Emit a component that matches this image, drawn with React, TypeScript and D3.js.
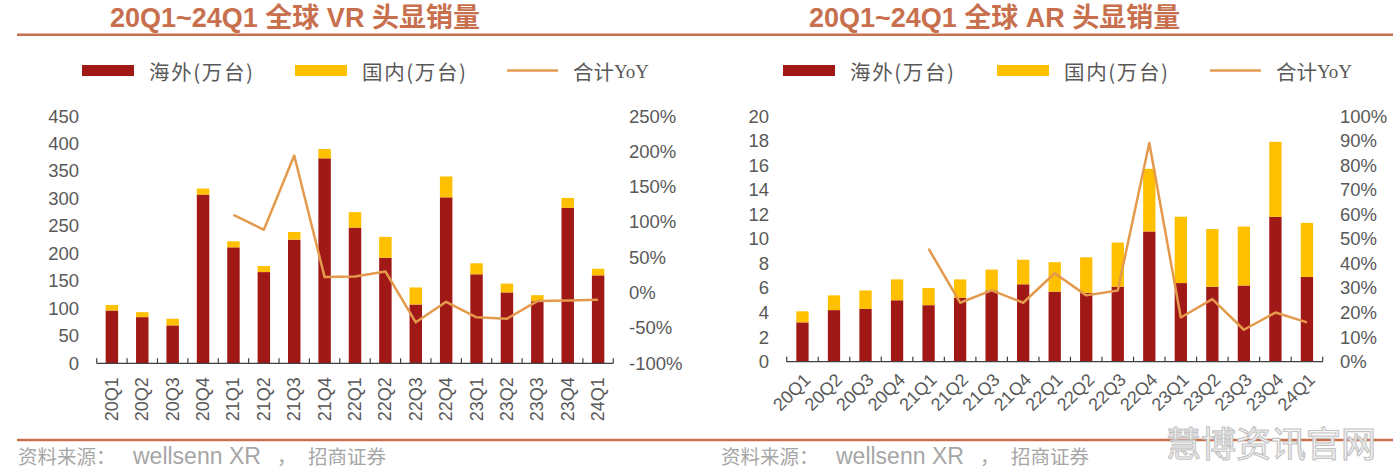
import React from "react";
import * as d3 from "d3";

const categories = ["20Q1","20Q2","20Q3","20Q4","21Q1","21Q2","21Q3","21Q4","22Q1","22Q2","22Q3","22Q4","23Q1","23Q2","23Q3","23Q4","24Q1"];

const vrOverseas = [96,84,69,307,211,166,225,373,247,192,107,302,162,129,113,283,160];
const vrDomestic = [10,9,12,11,11,11,14,17,28,38,31,38,20,16,11,18,12];
const vrYoY: (number | null)[] = [null,null,null,null,1.10,0.89,1.94,0.22,0.23,0.30,-0.42,-0.13,-0.35,-0.37,-0.12,-0.11,-0.10];
const vrLeftTicks = [0,50,100,150,200,250,300,350,400,450];
const vrRightTicks = [-1,-0.5,0,0.5,1,1.5,2,2.5];

const arOverseas = [3.2,4.2,4.3,5.0,4.6,5.2,5.8,6.3,5.7,5.6,6.1,10.6,6.4,6.1,6.2,11.8,6.9];
const arDomestic = [0.9,1.2,1.5,1.7,1.4,1.5,1.7,2.0,2.4,2.9,3.6,5.1,5.4,4.7,4.8,6.1,4.4];
const arYoY: (number | null)[] = [null,null,null,null,0.46,0.24,0.29,0.24,0.36,0.27,0.29,0.89,0.18,0.255,0.13,0.20,0.16];
const arLeftTicks = [0,2,4,6,8,10,12,14,16,18,20];
const arRightTicks = [0,0.1,0.2,0.3,0.4,0.5,0.6,0.7,0.8,0.9,1];

const legendLabels = ["海外(万台)", "国内(万台)", "合计YoY"];

const C_OVER = "#a11916";
const C_DOM = "#ffc000";
const C_LINE = "#e39a4c";
const C_TEXT = "#595959";
const C_TITLE = "#c8704e";
const FONT = "'Liberation Sans', Arial, 'Noto Sans CJK SC', sans-serif";
const CJK = "'Noto Sans CJK SC', sans-serif";

type ChartProps = {
  x0: number; x1: number; yBottom: number; yTop: number;
  overseas: number[]; domestic: number[]; yoy: (number | null)[];
  leftTicks: number[]; rightTicks: number[];
  leftLabelX: number; rightLabelX: number;
  padInner: number; rotate: number;
  title: string; titleX: number; legendX: number[];
};

function Chart(p: ChartProps) {
  const x = d3.scaleBand<string>().domain(categories).range([p.x0, p.x1])
    .paddingInner(p.padInner).paddingOuter(p.padInner / 2);
  const y = d3.scaleLinear().domain([p.leftTicks[0], p.leftTicks[p.leftTicks.length - 1]]).range([p.yBottom, p.yTop]);
  const y2 = d3.scaleLinear().domain([p.rightTicks[0], p.rightTicks[p.rightTicks.length - 1]]).range([p.yBottom, p.yTop]);
  const step = x.step();
  const line = d3.line<number | null>()
    .defined(d => d != null)
    .x((_, i) => (x(categories[i]) as number) + x.bandwidth() / 2)
    .y(d => y2(d as number));
  const boundaries = d3.range(categories.length + 1).map(i => p.x0 + i * step);
  return (
    <g>
      <text x={p.titleX} y={27} fontFamily={FONT} fontWeight="bold" fontSize={27} fill={C_TITLE}>{p.title}</text>
      {/* legend */}
      <rect x={p.legendX[0]} y={65} width={52} height={11} fill={C_OVER} />
      <text x={p.legendX[0] + 67} y={71} dominantBaseline="central" fontFamily={CJK} fontSize={20.5} fill={C_TEXT} textLength={104}>{legendLabels[0]}</text>
      <rect x={p.legendX[1]} y={65} width={52} height={11} fill={C_DOM} />
      <text x={p.legendX[1] + 67} y={71} dominantBaseline="central" fontFamily={CJK} fontSize={20.5} fill={C_TEXT} textLength={104}>{legendLabels[1]}</text>
      <line x1={p.legendX[2]} x2={p.legendX[2] + 51} y1={70.5} y2={70.5} stroke={C_LINE} strokeWidth={2.5} />
      <text x={p.legendX[2] + 66} y={71} dominantBaseline="central" fontFamily={CJK} fontSize={20.5} fill={C_TEXT}>
        {legendLabels[2].slice(0, 2)}<tspan fontFamily="'Liberation Serif', serif" fontSize={19}>{legendLabels[2].slice(2)}</tspan>
      </text>
      {/* left axis labels */}
      {p.leftTicks.map(t => (
        <text key={"l" + t} x={p.leftLabelX} y={y(t)} textAnchor="end" dominantBaseline="central" fontFamily={FONT} fontSize={18.5} fill={C_TEXT}>{t}</text>
      ))}
      {p.rightTicks.map(t => (
        <text key={"r" + t} x={p.rightLabelX} y={y2(t)} dominantBaseline="central" fontFamily={FONT} fontSize={18.5} fill={C_TEXT}>{Math.round(t * 100) + "%"}</text>
      ))}
      {/* bars */}
      {categories.map((c, i) => (
        <g key={c}>
          <rect x={x(c)} width={x.bandwidth()} y={y(p.overseas[i])} height={y(0) - y(p.overseas[i])} fill={C_OVER} />
          <rect x={x(c)} width={x.bandwidth()} y={y(p.overseas[i] + p.domestic[i])} height={y(p.overseas[i]) - y(p.overseas[i] + p.domestic[i])} fill={C_DOM} />
        </g>
      ))}
      {/* axis */}
      <line x1={p.x0} x2={p.x1} y1={p.yBottom} y2={p.yBottom} stroke="#404040" strokeWidth={1.2} />
      {boundaries.map((b, i) => (
        <line key={"t" + i} x1={b} x2={b} y1={p.yBottom - 5} y2={p.yBottom} stroke="#404040" strokeWidth={1.2} />
      ))}
      <path d={line(p.yoy) || ""} fill="none" stroke={C_LINE} strokeWidth={2.5} strokeLinejoin="round" />
      {/* x labels */}
      {categories.map(c => {
        const cx = (x(c) as number) + x.bandwidth() / 2;
        if (p.rotate === -90) {
          return <text key={"x" + c} transform={`translate(${cx},${p.yBottom + 14}) rotate(-90)`} textAnchor="end" dominantBaseline="central" fontFamily={FONT} fontSize={18} fill={C_TEXT}>{c}</text>;
        }
        return <text key={"x" + c} transform={`translate(${cx + 5},${p.yBottom + 15}) rotate(-45)`} textAnchor="end" dominantBaseline="central" fontFamily={FONT} fontSize={18} fill={C_TEXT}>{c}</text>;
      })}
    </g>
  );
}

function Source({ x }: { x: number }) {
  return (
    <text x={x} y={464} fill="#a6a6a6" fontFamily={CJK} fontSize={19.5}>
      <tspan x={x + 1}>资料来源：</tspan>
      <tspan x={x + 116} fontFamily={FONT} fontSize={23}>wellsenn XR</tspan>
      <tspan x={x + 260}>，</tspan>
      <tspan x={x + 291}>招商证券</tspan>
    </text>
  );
}

export default function App() {
  return (
    <svg width={1400} height={469} style={{ position: "absolute", left: 0, top: 0, background: "#fff" }}>
      <rect x={0} y={0} width={1400} height={469} fill="#fff" />
      <line x1={17} x2={1393} y1={34.7} y2={34.7} stroke="#c8704e" strokeWidth={2.6} />
      <line x1={17} x2={1393} y1={440} y2={440} stroke="#c8704e" strokeWidth={2.6} />
      <Chart x0={96.7} x1={613.3} yBottom={363.3} yTop={116} overseas={vrOverseas} domestic={vrDomestic} yoy={vrYoY}
        leftTicks={vrLeftTicks} rightTicks={vrRightTicks} leftLabelX={79} rightLabelX={629} padInner={0.59} rotate={-90}
        title="20Q1~24Q1 全球 VR 头显销量" titleX={110} legendX={[82, 295, 507]} />
      <Chart x0={786.7} x1={1322.7} yBottom={361.7} yTop={116} overseas={arOverseas} domestic={arDomestic} yoy={arYoY}
        leftTicks={arLeftTicks} rightTicks={arRightTicks} leftLabelX={769} rightLabelX={1340} padInner={0.61} rotate={-45}
        title="20Q1~24Q1 全球 AR 头显销量" titleX={809} legendX={[783, 997, 1210]} />
      <Source x={17} />
      <Source x={720} />
      <text x={1166} y={457} fontFamily={CJK} fontSize={35} fill="#f7f7f7" stroke="#c4c4c4" strokeWidth={1.2}>慧博资讯官网</text>
    </svg>
  );
}
